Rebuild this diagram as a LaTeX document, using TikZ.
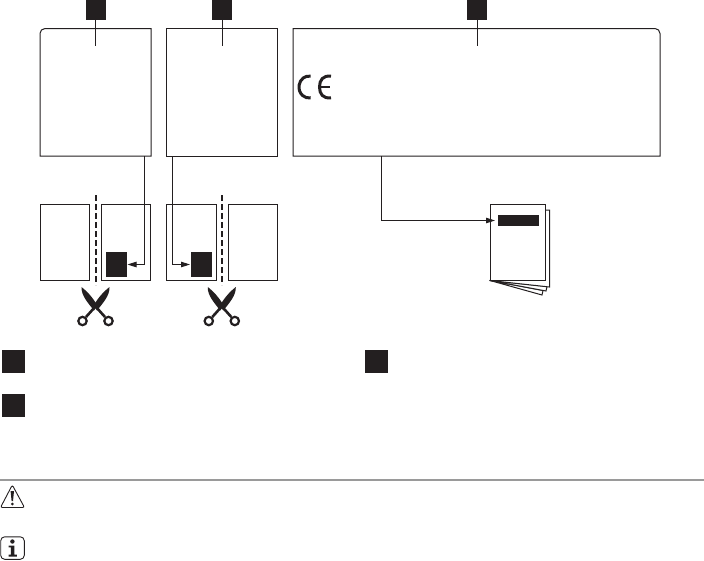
\documentclass[tikz,border=0pt]{standalone}
\usetikzlibrary{arrows.meta}
\definecolor{ink}{HTML}{231F20}
\definecolor{rulegray}{HTML}{9A9A9A}
\tikzset{
  x=1pt,y=-1pt,
  outline/.style={draw=ink,line width=1pt},
  blockshape/.style={fill=ink,inner sep=0pt,outer sep=0pt,anchor=north west},
  panel/.style={inner sep=0pt,outer sep=0pt,anchor=north west},
  sheet/.style={panel,draw=ink,line width=1pt,fill=white},
  conn/.style={draw=ink,line width=0.9pt},
  tip/.style={-{Triangle[length=9pt,width=5.5pt]}},
  cutline/.style={draw=ink,line width=1.7pt,dash pattern=on 5.5pt off 3.5pt},
  iconline/.style={draw=ink,line width=0.9pt},
  scissors/.pic={
    \fill[ink] (-14,-21.5) .. controls (-8,-17) and (-3,-11) .. (2,-3) -- (-1.5,2) .. controls (-7,-5) and (-14.5,-13) .. cycle;
    \fill[ink] (14,-21.5) .. controls (8,-17) and (3,-11) .. (-2,-3) -- (1.5,2) .. controls (7,-5) and (14.5,-13) .. cycle;
    \draw[ink,line width=2.6pt] (-1,-1) -- (-9.5,8.5);
    \draw[ink,line width=2.6pt] (1,-1) -- (9.5,8.5);
    \draw[ink,line width=2.2pt,fill=white] (-13,12.5) circle (4.2);
    \draw[ink,line width=2.2pt,fill=white] (13,12.5) circle (4.2);
  }
}
\begin{document}
\begin{tikzpicture}
\useasboundingbox (0,0) rectangle (704,560);
% top labels
\node[blockshape,minimum width=20pt,minimum height=20pt] (sqa) at (85.5,0) {};
\node[blockshape,minimum width=20pt,minimum height=20pt] (sqb) at (212,0) {};
\node[blockshape,minimum width=20pt,minimum height=20pt] (sqc) at (467,0) {};
% top panels
\node[panel,minimum width=111pt,minimum height=127.5pt] (boxa) at (40,28.5) {};
\node[panel,minimum width=111pt,minimum height=127.5pt] (boxb) at (166.5,28.5) {};
\node[panel,minimum width=367pt,minimum height=127.5pt] (boxc) at (293,28.5) {};
\draw[outline] (boxa.south east) -- (boxa.south west) [rounded corners=5pt] -- (boxa.north west) [sharp corners] -- (boxa.north east) -- cycle;
\draw[outline] (boxb.north west) rectangle (boxb.south east);
\draw[outline] (boxc.north west) [rounded corners=5pt] -- (boxc.north east) [sharp corners] -- (boxc.south east) -- (boxc.south west) -- cycle;
% ticks
\coordinate (ticka) at (95.5,46);
\coordinate (tickb) at (222,46);
\coordinate (tickc) at (477,46);
\draw[conn] (sqa.south) -- (ticka);
\draw[conn] (sqb.south) -- (tickb);
\draw[conn] (sqc.south) -- (tickc);
% CE mark
\draw[ink,line width=3pt] (310.7,76.2) arc[start angle=-80,end angle=-280,x radius=10,y radius=11];
\draw[ink,line width=3pt] (331,76.2) .. controls (323,75.2) and (319.5,80) .. (319.5,87) .. controls (319.5,94) and (323,98.8) .. (331,97.8);
\draw[ink,line width=2.4pt] (319.5,87) -- (329.5,87);
% sheets
\node[sheet,minimum width=49pt,minimum height=76pt] (sha) at (40.5,204) {};
\node[sheet,minimum width=49pt,minimum height=76pt] (shb) at (101.5,204) {};
\node[sheet,minimum width=50pt,minimum height=76pt] (shc) at (166.5,204) {};
\node[sheet,minimum width=49pt,minimum height=76pt] (shd) at (228.5,204) {};
\node[blockshape,minimum width=21pt,minimum height=25pt] (blka) at (106,252) {};
\node[blockshape,minimum width=21pt,minimum height=25pt] (blkb) at (191,252) {};
% connectors
\draw[conn,tip] ([xshift=-6.5pt]boxa.south east) |- ([xshift=0.5pt]blka.east);
\draw[conn,tip] ([xshift=6pt]boxb.south west) |- ([xshift=-1pt]blkb.west);
% dashed cut lines
\coordinate (cuta1) at (96,195); \coordinate (cuta2) at (96,285);
\coordinate (cutb1) at (221.7,195); \coordinate (cutb2) at (221.7,285);
\draw[cutline] (cuta1) -- (cuta2);
\draw[cutline] (cutb1) -- (cutb2);
\pic at (95.5,308.5) {scissors};
\pic at (221.8,308.5) {scissors};
% booklet
\draw[outline,fill=white] (490,280.5) -- (542,295) -- (543,290.5) -- cycle;
\draw[outline,fill=white] (490,280.5) -- (546,291) -- (547,286.5) -- cycle;
\draw[outline,fill=white] (540,210) -- (549.5,210) -- (549.5,287) -- (490,280.5) -- cycle;
\node[sheet,minimum width=55.5pt,minimum height=76.5pt] (page) at (490,204) {};
\node[blockshape,minimum width=41pt,minimum height=11pt] (title) at (498,215) {};
\draw[conn,tip] ([xshift=88pt]boxc.south west) |- ([xshift=-3pt]title.west);
% legend
\node[blockshape,minimum width=23pt,minimum height=23pt] (lega) at (2,350) {};
\node[blockshape,minimum width=23pt,minimum height=23pt] (legb) at (2,394) {};
\node[blockshape,minimum width=23pt,minimum height=23pt] (legc) at (365,350) {};
% rule
\coordinate (rulea) at (0,480); \coordinate (ruleb) at (704,480);
\draw[rulegray,line width=1.4pt] (rulea) -- (ruleb);
% warning icon
\draw[iconline,rounded corners=2pt] (12.3,485) -- (24.5,507.5) -- (0.5,507.5) -- cycle;
\fill[ink] (10.6,491) -- (14,491) -- (13,501) -- (11.6,501) -- cycle;
\fill[ink] (12.3,504) circle (1.5);
% info icon
\draw[iconline,rounded corners=4pt] (0.7,536.8) rectangle (24.3,559.3);
\fill[ink] (12.4,541.5) circle (2.2);
\fill[ink] (8.7,545.5) -- (14.4,545.5) -- (14.4,554.5) -- (16.8,554.5) -- (16.8,556.5) -- (8.7,556.5) -- (8.7,554.5) -- (10.8,554.5) -- (10.8,547.4) -- (8.7,547.4) -- cycle;
\end{tikzpicture}
\end{document}
